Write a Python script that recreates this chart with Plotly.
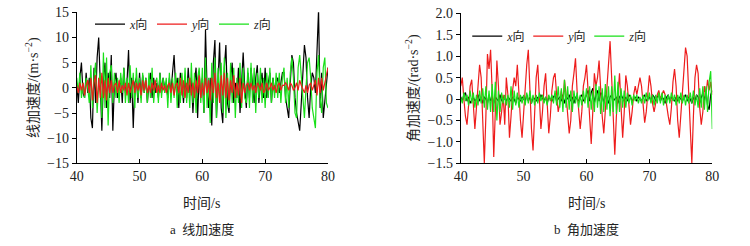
import numpy as np
import plotly.graph_objects as go

# time axis (s)
t_start, t_end, t_step = 40, 80, 0.25

# --- a: linear acceleration (m/s^2) ---
lin_x = [1, -3, 2, 5, -1, -2, 3, -1, 2, -6, -8, 4, -3, 6, 10, -2,
         -8.5, 2, 5, -4, 3, -2, 6.5, -8.5, 1, 3, -2, 0, 2, -3, 4, -1,
         1, 7.5, -3, 2, -8, 1, 2, -3, 3, -2, 2.5, -1, 2, -3, 1, 3,
         -2, 2, -1, 1, -2, 3, -1, 2, 0, 1, -2, 2, -1, 3, 6.5, 0,
         2, -4, 3, 1, -3, 2, -2, 4, -1, 2, -5, 1, 4, -6, 3, -2,
         2, -5, 11.5, 0, -4, 2, -7.5, 5, 9.5, -6, 3, 9, -4, -7, 4, 8.5,
         -3, -5, 2, 5, -3, 1, -2, 4, -5, 2, 7, 0, -4, 3, -2, 4,
         1, -3, 2, 4.5, -3, 1, 3, -2, 4, -2, 1, 3, -3, 2, -1, 1,
         2, -1, 1, 3, 3, -2, -4, -6, 1, 6.5, 5, -2, -5, -7, -8.5, -3,
         4, 8.5, 6, -2, -6, 0, 3, 2, -1, 6, 15.5, -4, 3, -6, -3, 1, 4]
lin_y = [0.5, -1, 1, -0.5, 1, -1.5, 0.5, 1.5, -1, 2, -2.5, 1, 2.5, -3, 2, -2,
         3, -2, 1.5, -2.5, 2, -1, 1.5, -1, 0.5, 1, -1, 1.5, -1, 0.5, -0.5, 1,
         -1.5, 1, -1, 0.5, 1.5, -1, 1, -0.5, 1, -1.5, 1.5, -0.5, 1.5, -1, 0.5, -1,
         1, -0.5, 1.5, -1, 0.5, -1, 1, -0.5, 0.5, -1, 0.5, 1, -1, 1, -1.5, 0.5,
         1, -1, 2, -1.5, 1.5, -2, 1, -1, 2, -1.5, 1, -2, 1.5, -1, 2.5, -2,
         1, -1.5, 2, -1, 1.5, -2.5, 2, -1, 3, -2, 1, -3, 2.5, -1.5, 3, -2,
         2, -2.5, 1.5, -1, 2.5, -2, 1, -1.5, 2, -3, 1, -1, 0.5, 1, -0.5, 1,
         -0.5, 0.5, -1, 1, 0.5, -0.5, 1, -1, -0.5, 1, -0.5, 0, 1, -0.5, 0.5, -1,
         0.5, 1, -0.5, 0.5, 0.5, 1, 0.5, -0.5, 1, 0.5, -0.5, 0, 1, -0.5, 1.5, 0.5,
         -0.5, -1, 0.5, -1, 0.5, 1, -0.5, 0.5, 1.5, -1.5, 2, -1, 2, -0.5, 1, 3, 4]
lin_z = [2, -1, 3, -2, 1, -2, 2, 0, -3, 4.5, -4, 2, 5, -5, 1, 3,
         -6, 7, -4, 6, -7.5, 3, 4.5, -3, 3, -2, 2, -3, 3, -1, 4, -3,
         2, -3, 4.5, -2, 3, -4, 4, -2, 2, -3, 3, -1, 2, -3, 3, -2,
         4, -3, 1, 2, -3, 3, -2, 2, -1, 2, -4, 3, -3, 2, -2, 3,
         -4, 2, -3, 3, -2, 4, -3, 2, -4, 5, -3, 3, -5, 2, 4, -3,
         4, -5, 6, -4, 2, -7, 5, -3, 6, -6, 4, -2, 5, -5, 6, -6,
         3, -4, 5, -3, 4, -6, 2, -3, 5, -4, 4, -2, -3, 4, -4, 5,
         -3, 4, -5, 3, -2, 4, -3, 2, -4, 3, -2, 4, -3, 2, -2, 3,
         -2, 3, -3, 2, 4, -3, 2, -4, 3, 6, 2, -5, -6, 4, 6.5, 2,
         -3, -6, 0, 5, 6, 2, -4, -6, -8, 3, 6.5, -2, -5, 4, 6, -3, -4]

# --- b: angular acceleration (rad/s^2) ---
ang_x = [0.05, -0.05, 0.1, 0.15, -0.05, 0.05, -0.1, 0.0, 0.05, -0.05, 0.0, 0.1, -0.05, 0.05, -0.1, 0.05,
         0.0, -0.1, 0.1, -0.05, 0.05, -0.1, 0.05, 0.0, -0.05, 0.1, -0.05, 0.05, 0.0, -0.05, 0.05, 0.0,
         -0.05, 0.05, 0.0, -0.1, 0.05, 0.0, -0.05, 0.05, 0.0, -0.05, 0.1, -0.05, 0.05, -0.1, 0.05, 0.0,
         -0.05, 0.05, -0.05, 0.1, 0.0, -0.05, 0.05, -0.1, 0.05, 0.0, -0.05, 0.05, 0.1, -0.05, 0.0, 0.05,
         -0.05, 0.1, -0.1, 0.05, 0.0, 0.1, -0.05, 0.05, -0.1, 0.05, 0.0, -0.05, 0.05, 0.1, -0.05, 0.0,
         0.1, 0.2, -0.05, 0.15, 0.25, -0.1, 0.1, 0.2, -0.05, 0.15, 0.1, -0.1, 0.1, 0.05, -0.1, 0.05,
         0.1, -0.05, 0.0, 0.05, -0.1, 0.05, 0.1, 0.0, -0.05, 0.05, -0.05, 0.1, 0.05, -0.05, 0.0, 0.05,
         -0.05, 0.05, 0.0, -0.05, 0.05, 0.1, -0.05, 0.0, 0.05, -0.05, 0.1, 0.05, -0.05, 0.05, 0.1, -0.05,
         0.05, 0.0, -0.1, 0.05, 0.1, -0.05, 0.05, 0.0, -0.05, 0.05, -0.05, 0.05, 0.0, -0.05, 0.05, 0.1,
         -0.05, 0.05, 0.0, -0.1, 0.05, -0.05, 0.1, 0.05, -0.1, 0.05, 0.15, -0.05, 0.2, -0.15, -0.25, 0.1, 0.2]
ang_y = [0.3, 0.5, 0.0, -0.4, -0.6, -0.1, 0.3, 0.45, -0.2, -0.7, -0.2, 0.4, 0.8, 0.5, -0.5, -1.5,
         -0.4, 1.05, 0.7, 1.15, 0.2, -1.35, -0.3, 0.9, 0.3, -0.6, -0.3, 0.1, -0.6, 0.5, 0.1, -0.9,
         -0.4, 0.2, 0.5, 0.3, 0.8, 0.1, -0.5, -0.9, -0.3, 0.3, 0.8, 1.15, 0.2, -0.7, -1.2, -0.2,
         0.5, 0.8, 0.0, -0.7, -0.3, 0.3, 0.6, 0.0, -0.8, -0.4, 0.2, 0.5, 0.6, 0.1, -0.3, -0.1,
         0.2, -0.1, 0.45, 0.1, -0.4, -0.8, -0.5, 0.3, 0.6, 0.95, 0.2, -0.3, -0.7, -0.3, 0.3, 0.5,
         0.8, 0.2, -0.6, -1.05, -0.3, 0.6, 0.3, 0.5, 0.9, 0.2, -0.4, -0.8, -0.3, 0.4, 0.9, 1.35,
         0.5, -0.6, -1.3, -0.4, 0.2, 0.6, -0.2, -0.9, -0.3, 0.55, 0.3, -0.1, -0.6, -0.3, 0.1, 0.3,
         0.1, 0.3, 0.5, 0.3, -0.2, -0.55, -0.3, 0.1, 0.55, 0.3, -0.1, -0.3, -0.1, 0.1, 0.2, 0.0,
         0.1, 0.2, 0.1, -0.2, -0.4, -0.6, -0.2, 0.4, 0.7, 0.3, -0.5, -0.9, -0.4, 0.2, 0.7, 1.2,
         1.0, 0.1, -0.8, -1.5, -0.4, 0.5, 0.8, 0.6, -0.2, -0.6, -0.3, 0.3, 0.1, 0.45, 0.2, 0.4, 0.1]
ang_z = [0.05, -0.1, 0.15, -0.05, 0.1, -0.15, 0.2, -0.1, 0.15, -0.2, 0.1, -0.15, 0.2, -0.1, 0.25, -0.2,
         0.3, -0.25, 0.2, -0.3, 0.35, -0.3, 0.4, -0.5, 0.2, -0.3, 0.15, -0.1, 0.1, -0.15, 0.1, -0.2,
         0.3, -0.25, 0.2, -0.15, 0.15, -0.2, 0.1, -0.1, 0.1, -0.15, 0.15, -0.1, 0.2, -0.1, 0.1, -0.15,
         0.1, -0.1, 0.15, -0.05, 0.1, -0.1, 0.05, -0.15, 0.1, -0.05, 0.1, -0.1, 0.2, -0.15, 0.3, -0.2,
         0.25, -0.3, 0.45, -0.2, 0.3, -0.25, 0.2, -0.3, 0.2, -0.1, 0.15, -0.2, 0.1, -0.15, 0.2, -0.1,
         0.25, -0.2, 0.3, -0.25, 0.2, -0.3, 0.35, -0.2, 0.3, -0.35, 0.25, -0.3, 0.35, -0.25, 0.3, -0.4,
         0.3, -0.3, 0.55, -0.35, 0.4, -0.3, 0.25, -0.2, 0.2, -0.2, 0.15, -0.1, 0.1, -0.15, 0.1, -0.05,
         0.1, -0.1, 0.05, -0.1, 0.1, -0.1, 0.15, -0.05, 0.15, -0.1, 0.1, -0.15, 0.1, -0.1, 0.15, -0.1,
         0.15, -0.15, 0.1, -0.1, 0.1, -0.1, 0.15, -0.05, 0.1, -0.15, 0.1, -0.1, 0.15, -0.1, 0.1, -0.15,
         0.1, -0.1, 0.15, -0.1, 0.2, -0.15, 0.1, -0.2, 0.25, -0.2, 0.3, -0.25, 0.3, -0.3, 0.4, 0.65, -0.7]

t = np.arange(t_start, t_end + t_step / 2, t_step)

series_names = ["<i>x</i>向", "<i>y</i>向", "<i>z</i>向"]
colors = {"x": "#000000", "y": "#ee1c1c", "z": "#19e019"}

x_ticks = [40, 50, 60, 70, 80]
lin_ticks = [15, 10, 5, 0, -5, -10, -15]
ang_ticks = [2.0, 1.5, 1.0, 0.5, 0, -0.5, -1.0, -1.5]
ang_ticktext = ["2.0", "1.5", "1.0", "0.5", "0", "\u22120.5", "\u22121.0", "\u22121.5"]

SERIF = "Liberation Serif, Times New Roman, Noto Sans CJK SC, serif"
CJK = "Liberation Serif, Noto Sans CJK SC, serif"

fig = go.Figure()

def add(xaxis, yaxis, y, key, name, legend, rank):
    fig.add_trace(go.Scatter(
        x=t, y=y, mode="lines", name=name,
        line=dict(color=colors[key], width=1.2),
        xaxis=xaxis, yaxis=yaxis, legend=legend, legendrank=rank,
    ))

# left panel: black, green, red (red on top)
add("x", "y", lin_x, "x", series_names[0], "legend", 1)
add("x", "y", lin_z, "z", series_names[2], "legend", 3)
add("x", "y", lin_y, "y", series_names[1], "legend", 2)
# right panel: black, red, green (green on top)
add("x2", "y2", ang_x, "x", series_names[0], "legend2", 1)
add("x2", "y2", ang_y, "y", series_names[1], "legend2", 2)
add("x2", "y2", ang_z, "z", series_names[2], "legend2", 3)

axis_common = dict(showline=True, linecolor="#000", linewidth=1, showgrid=False,
                   zeroline=False, tickcolor="#000", ticklen=4, automargin=False,
                   tickfont=dict(family=SERIF, size=14, color="#222"))

fig.update_layout(
    width=750, height=246,
    margin=dict(l=0, r=0, t=0, b=0, autoexpand=False),
    paper_bgcolor="white", plot_bgcolor="white",
    xaxis=dict(domain=[0.1023, 0.4373], range=[40, 80], tickvals=x_ticks,
               ticks="inside", anchor="y", **axis_common),
    yaxis=dict(domain=[0.336, 0.95], range=[-15, 15], tickvals=lin_ticks,
               ticks="outside", anchor="x", **axis_common),
    xaxis2=dict(domain=[0.6143, 0.9497], range=[40, 80], tickvals=x_ticks,
                ticks="inside", anchor="y2", **axis_common),
    yaxis2=dict(domain=[0.336, 0.946], range=[-1.5, 2.0], tickvals=ang_ticks,
                ticktext=ang_ticktext, ticks="outside", anchor="x2", **axis_common),
    legend=dict(orientation="h", x=0.120, y=0.902, xanchor="left", yanchor="middle",
                bgcolor="rgba(0,0,0,0)", font=dict(family=CJK, size=12, color="#222"),
                entrywidth=17, entrywidthmode="pixels", itemwidth=30,
                tracegroupgap=0),
    legend2=dict(orientation="h", x=0.623, y=0.853, xanchor="left", yanchor="middle",
                 bgcolor="rgba(0,0,0,0)", font=dict(family=CJK, size=12, color="#222"),
                 entrywidth=16, entrywidthmode="pixels", itemwidth=30,
                 tracegroupgap=0),
    showlegend=True,
)

ann_font = dict(family=CJK, size=14, color="#222")
common = dict(xref="paper", yref="paper", showarrow=False, xanchor="center", yanchor="middle")
fig.add_annotation(text="线加速度/(m·s<sup>−2</sup>)", x=33 / 750, y=1 - 88 / 246,
                   textangle=-90, font=ann_font, **common)
fig.add_annotation(text="角加速度/(rad·s<sup>−2</sup>)", x=413 / 750, y=1 - 88 / 246,
                   textangle=-90, font=ann_font, **common)
fig.add_annotation(text="时间/s", x=202 / 750, y=1 - 203 / 246, font=ann_font, **common)
fig.add_annotation(text="时间/s", x=586 / 750, y=1 - 203 / 246, font=ann_font, **common)
fig.add_annotation(text="a  线加速度", x=202 / 750, y=1 - 229 / 246,
                   font=dict(family=CJK, size=13, color="#222"), **common)
fig.add_annotation(text="b  角加速度", x=586 / 750, y=1 - 229 / 246,
                   font=dict(family=CJK, size=13, color="#222"), **common)

fig.write_html("out.html", config={"displayModeBar": False},
               post_script="document.body.style.margin='0';")
